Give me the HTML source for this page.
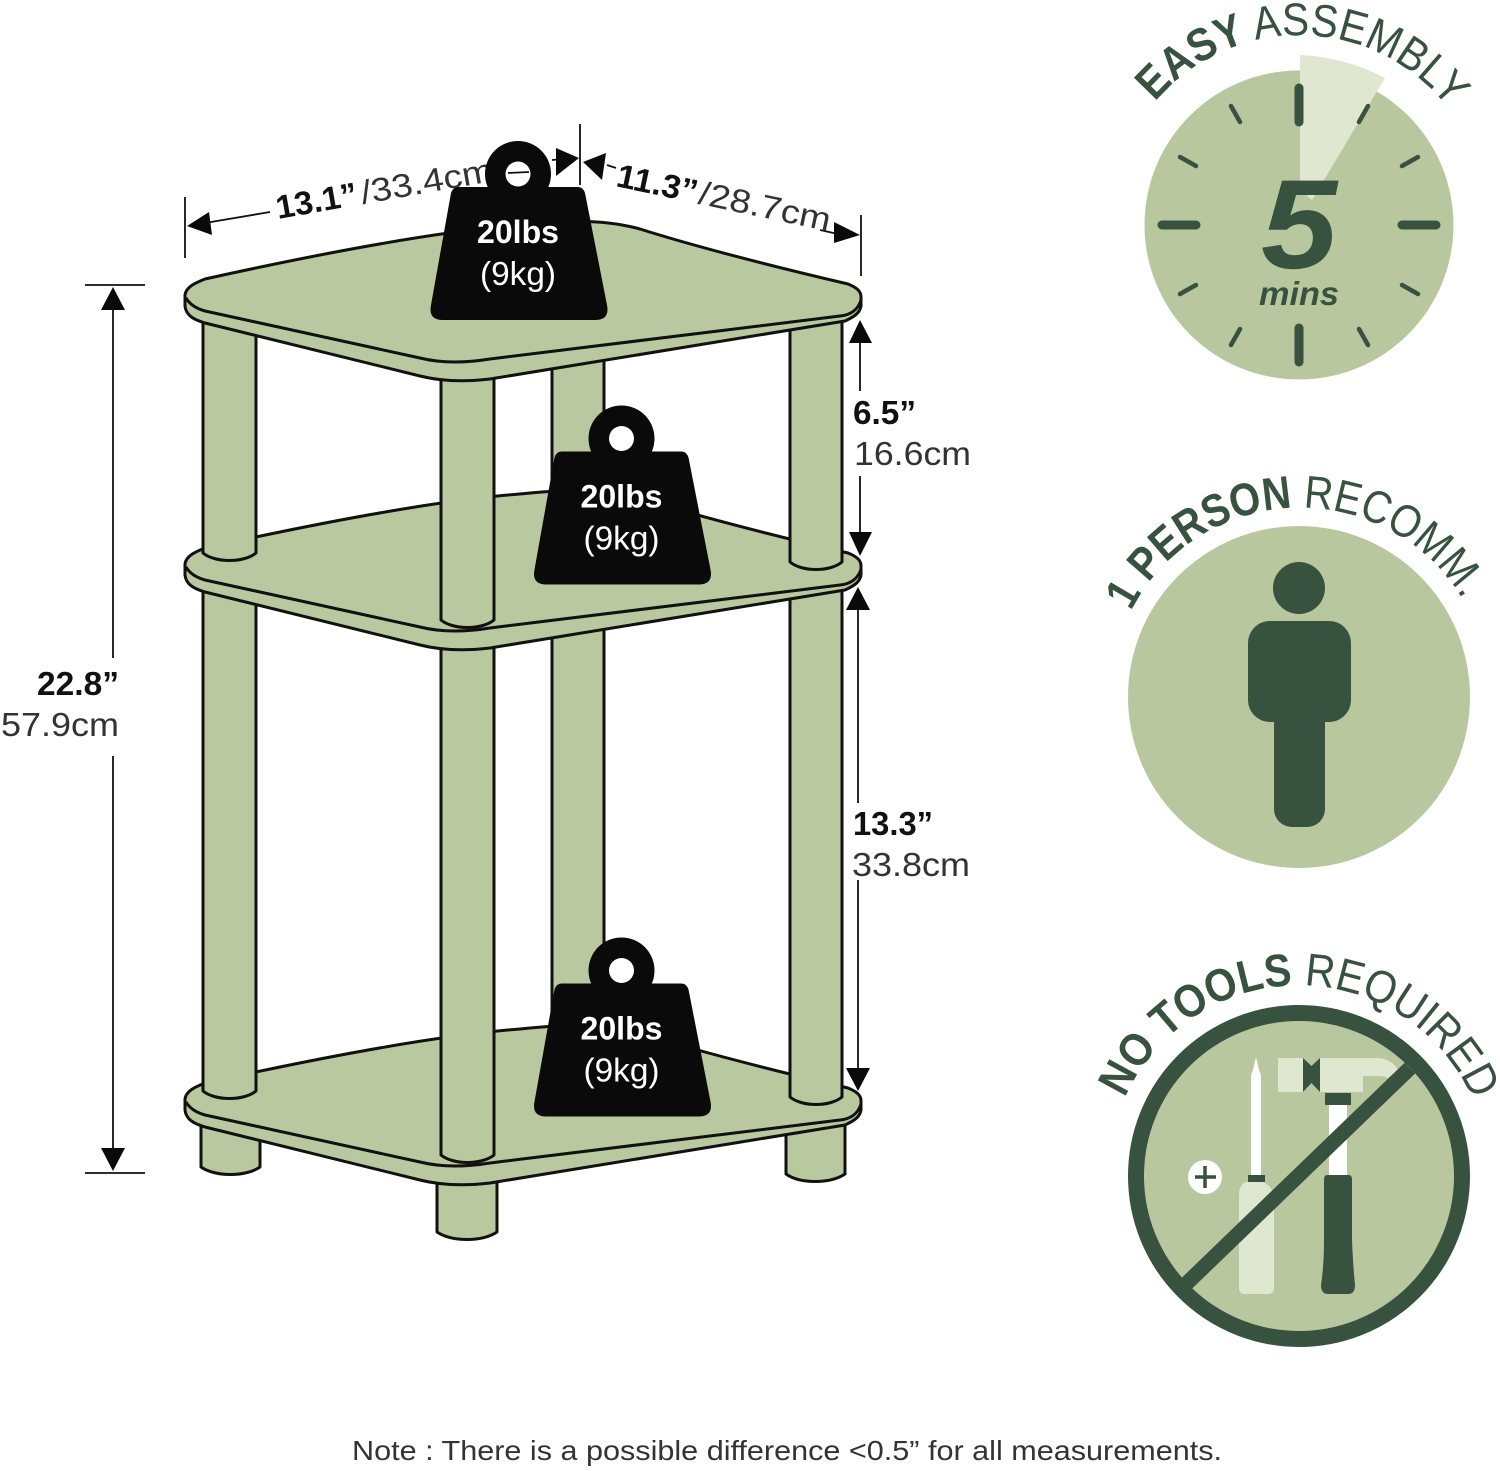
<!DOCTYPE html>
<html>
<head>
<meta charset="utf-8">
<style>
html,body{margin:0;padding:0;background:#fff;width:1500px;height:1471px;overflow:hidden}
svg{display:block}
text{font-family:"Liberation Sans",sans-serif}
.s{fill:#bac89f;stroke:#111;stroke-width:3;stroke-linejoin:round}
.l{fill:none;stroke:#111;stroke-width:3}
.d{stroke:#111;stroke-width:1.8;fill:none}
.a{fill:#0a0a0a}
.dim{font-size:33px;fill:#333}
.dimb{font-size:33px;fill:#111;font-weight:bold}
.g{fill:#37523e}
.t{stroke:#37523e;stroke-linecap:round;fill:none}
.badge{fill:#37523e;font-size:46px}
</style>
</head>
<body>
<svg width="1500" height="1471" viewBox="0 0 1500 1471" xmlns="http://www.w3.org/2000/svg">
<defs>
<g id="shelf">
<path class="s" d="M185,295 C186,287 195,283 205,279 C300,258 430,232 520,225 C560,221 600,218 640,229 C700,248 780,268 848,284 C858,288 861,292 861,297 L861,306 C860,312 856,316 845,321 L490,379 C465,382 440,381 420,376 L205,323 C195,320 186,316 185,306 Z"/>
<path class="l" d="M186,298 C190,305 198,309 205,311 L420,358 C440,363 465,363 490,359 L840,316 C850,315 858,310 861,300"/>
</g>
<g id="wt">
<circle cx="518" cy="174" r="33" fill="#0a0a0a"/>
<path class="a" d="M458,187 L578,187 Q583,187 585,193 L607,305 Q610,320 595,320 L443,320 Q428,320 431,305 L451,193 Q453,187 458,187 Z"/>
<circle cx="518" cy="174" r="12.5" fill="#fff"/>
<text x="518" y="243" text-anchor="middle" font-size="32" font-weight="bold" fill="#fff" textLength="82" lengthAdjust="spacingAndGlyphs">20lbs</text>
<text x="518" y="285" text-anchor="middle" font-size="33" fill="#fff" textLength="76" lengthAdjust="spacingAndGlyphs">(9kg)</text>
</g>
<path id="arc1" d="M1155,102 A189,189 0 0 1 1463,130"/>
<path id="arc2" d="M1131,611 A190,190 0 0 1 1476,626"/>
<path id="arc3" d="M1125,1098 A190,190 0 0 1 1479,1116"/>
</defs>

<!-- back post -->
<path class="s" d="M552,350 L552,1060 L604,1060 L604,350 Z"/>
<!-- feet -->
<path class="s" d="M201,1120 L201,1167 C215,1177 246,1177 260,1167 L260,1120 Z"/>
<path class="s" d="M437,1170 L437,1232 C452,1242 482,1242 497,1232 L497,1170 Z"/>
<path class="s" d="M786,1120 L786,1174 C800,1184 830,1184 845,1174 L845,1120 Z"/>
<!-- bottom shelf -->
<use href="#shelf" transform="translate(0,804)"/>
<!-- lower posts -->
<path class="s" d="M203,570 L203,1091 C215,1101 244,1101 256,1091 L256,570 Z"/>
<path class="s" d="M790,570 L790,1097 C802,1107 830,1107 842,1097 L842,570 Z"/>
<path class="s" d="M441,630 L441,1155 C453,1165 482,1165 494,1155 L494,630 Z"/>
<!-- middle shelf -->
<use href="#shelf" transform="translate(0,269)"/>
<!-- upper posts -->
<path class="s" d="M203,300 L203,553 C215,563 244,563 256,553 L256,300 Z"/>
<path class="s" d="M790,300 L790,562 C802,572 830,572 842,562 L842,300 Z"/>
<path class="s" d="M441,360 L441,620 C453,630 482,630 494,620 L494,360 Z"/>
<!-- top shelf -->
<use href="#shelf"/>

<!-- 13.1 dim text sits behind the weight -->
<g transform="translate(278,219) rotate(-10)">
<text class="dimb" x="0" y="0" textLength="82" lengthAdjust="spacingAndGlyphs">13.1”</text>
<text class="dim" x="86" y="0" textLength="134" lengthAdjust="spacingAndGlyphs">/33.4cm</text>
</g>

<!-- weights -->
<use href="#wt"/>
<use href="#wt" transform="translate(103.5,264.5)"/>
<use href="#wt" transform="translate(103.5,796.5)"/>

<!-- 22.8 dimension -->
<path class="d" d="M85,285 H145 M85,1173 H145 M113,300 V658 M113,756 V1155"/>
<path class="a" d="M113,287 L125,310 L101,310 Z M113,1171 L125,1148 L101,1148 Z"/>
<text class="dimb" x="119" y="695" text-anchor="end" textLength="82" lengthAdjust="spacingAndGlyphs">22.8”</text>
<text class="dim" x="119" y="736" text-anchor="end" textLength="118" lengthAdjust="spacingAndGlyphs">57.9cm</text>

<!-- top dims -->
<path class="d" d="M185,197 V258 M580,124 V185 M861,215 V276"/>
<path class="d" d="M205,223 L270,212 M508,173 L529,172 M552,160 L575,158 M607,165 L616,168 M820,230 L838,234"/>
<path class="a" d="M187,226 L209,212 L212,235 Z M579,158 L556,148 L556,176 Z M583,162 L606,153 L602,180 Z M860,235 L834,222 L834,243 Z"/>
<g transform="translate(615,186) rotate(12)">
<text class="dimb" x="0" y="0" textLength="82" lengthAdjust="spacingAndGlyphs">11.3”</text>
<text class="dim" x="84" y="0" textLength="134" lengthAdjust="spacingAndGlyphs">/28.7cm</text>
</g>

<!-- right dims -->
<path class="d" d="M860,340 V391 M860,476 V535 M858,605 V803 M858,880 V1075"/>
<path class="a" d="M860,320 L872,343 L849,343 Z M860,556 L872,532 L849,532 Z M858,587 L870,610 L846,610 Z M858,1091 L870,1068 L846,1068 Z"/>
<text class="dimb" x="853" y="424" textLength="63" lengthAdjust="spacingAndGlyphs">6.5”</text>
<text class="dim" x="854" y="465" textLength="117" lengthAdjust="spacingAndGlyphs">16.6cm</text>
<text class="dimb" x="853" y="835" textLength="80" lengthAdjust="spacingAndGlyphs">13.3”</text>
<text class="dim" x="852" y="876" textLength="118" lengthAdjust="spacingAndGlyphs">33.8cm</text>

<!-- clock -->
<circle cx="1299" cy="225" r="154.5" fill="#b9c79f"/>
<path d="M1300,55 Q1345,57 1385,78 L1312,200 L1300,190 Z" fill="#e0e7d0"/>
<g class="t" stroke-width="9">
<path d="M1299,88 V122 M1299,328 V362 M1162,225 H1196 M1402,225 H1436"/>
</g>
<g class="t" stroke-width="4.5">
<path d="M1231,106 L1240,122 M1368,106 L1359,122 M1180,157 L1196,166 M1418,157 L1402,166 M1180,294 L1196,285 M1418,294 L1402,285 M1231,345 L1240,329 M1368,345 L1359,329"/>
</g>
<text x="1299" y="268" text-anchor="middle" font-size="127" font-weight="bold" font-style="italic" fill="#37523e" textLength="76" lengthAdjust="spacingAndGlyphs">5</text>
<text x="1299" y="305" text-anchor="middle" font-size="33" font-weight="bold" font-style="italic" fill="#37523e" textLength="80" lengthAdjust="spacingAndGlyphs">mins</text>
<text class="badge"><textPath href="#arc1" textLength="336" lengthAdjust="spacingAndGlyphs"><tspan font-weight="bold">EASY</tspan> ASSEMBLY</textPath></text>

<!-- person -->
<circle cx="1299" cy="697" r="171" fill="#b9c79f"/>
<circle cx="1299" cy="588" r="26" class="g"/>
<rect x="1274" y="690" width="51" height="137" rx="18" class="g"/>
<rect x="1248" y="621" width="103" height="101" rx="22" class="g"/>
<text class="badge"><textPath href="#arc2" textLength="403" lengthAdjust="spacingAndGlyphs"><tspan font-weight="bold">1 PERSON</tspan> RECOMM.</textPath></text>

<!-- no tools -->
<circle cx="1299" cy="1176" r="163" fill="#b9c79f" stroke="#37523e" stroke-width="16"/>
<path fill="#e0e7d0" d="M1278,1058 H1303 V1092 H1278 Z M1320,1058 H1378 Q1392,1059 1398,1070 L1388,1078 Q1385,1076 1378,1076 H1363 V1092 H1320 Z"/>
<path class="g" d="M1303,1058 L1311.5,1066 L1320,1058 V1092 L1311.5,1083 L1303,1092 Z"/>
<rect x="1325" y="1093" width="26" height="12" class="g"/>
<rect x="1329" y="1105" width="18" height="71" fill="#fff"/>
<path class="g" d="M1327,1175 H1349 Q1352,1175 1352,1180 L1352,1240 Q1353,1265 1355,1285 Q1355,1294 1348,1294 H1328 Q1321,1294 1321,1285 Q1324,1265 1324,1240 L1324,1180 Q1324,1175 1327,1175 Z"/>
<path fill="#fff" d="M1256,1057 L1259,1070 L1261,1075 L1261,1175 L1251,1175 L1251,1075 L1253,1070 Z"/>
<rect x="1248" y="1175" width="17" height="7" class="g"/>
<path fill="#e0e7d0" d="M1245,1182 H1261 Q1268,1182 1274,1194 V1288 Q1274,1294 1268,1294 H1245 Q1239,1294 1239,1288 V1194 Q1239,1186 1245,1182 Z"/>
<circle cx="1205" cy="1177" r="17" fill="#fff"/>
<path class="t" stroke-width="3.5" style="stroke-linecap:butt" d="M1195,1177 H1216 M1205,1166 V1188"/>
<path d="M1185,1285 L1410,1068" stroke="#37523e" stroke-width="15" fill="none"/>
<text class="badge"><textPath href="#arc3" textLength="440" lengthAdjust="spacingAndGlyphs"><tspan font-weight="bold">NO TOOLS</tspan> REQUIRED</textPath></text>

<!-- note -->
<text x="352" y="1460" font-size="28" fill="#333" textLength="870" lengthAdjust="spacingAndGlyphs">Note : There is a possible difference &lt;0.5” for all measurements.</text>
</svg>
</body>
</html>
